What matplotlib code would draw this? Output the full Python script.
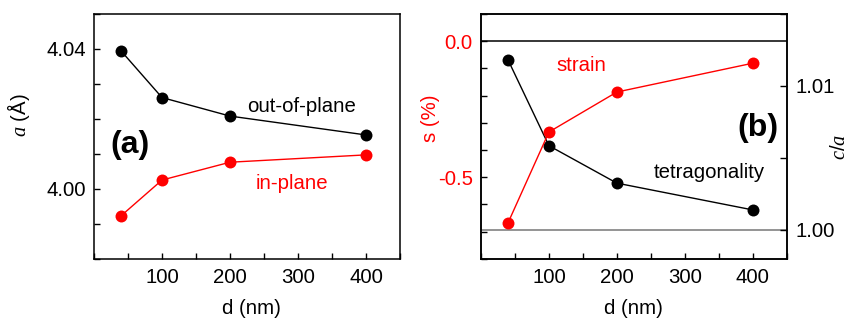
import matplotlib
matplotlib.use("Agg")
import matplotlib.pyplot as plt
from matplotlib.ticker import MultipleLocator, FixedLocator, FormatStrFormatter

plt.rcParams['font.family'] = ['Liberation Sans', 'DejaVu Sans']
plt.rcParams['mathtext.fontset'] = 'custom'
plt.rcParams['mathtext.it'] = 'Liberation Serif:italic'
plt.rcParams['mathtext.rm'] = 'Liberation Sans'

d = [40, 100, 200, 400]
a_out = [4.0394, 4.0261, 4.0208, 4.0154]
a_in = [3.9923, 4.0025, 4.0076, 4.0097]
strain = [-0.667, -0.334, -0.187, -0.081]
tetra = [1.01179, 1.00585, 1.00325, 1.00139]

RED = '#ff0000'
FS = 14.7
BFS = 23
W, H = 851, 322
fig = plt.figure(figsize=(W/100, H/100), dpi=100)

def fx(px): return px / W
def fy(py): return 1 - py / H

ax1 = fig.add_axes([fx(94), fy(258.7), fx(400-94), (258.7-14)/H])
ax2 = fig.add_axes([fx(481), fy(258.7), fx(786.7-481), (258.7-14)/H])
ax3 = ax2.twinx()

mk = dict(marker='o', markersize=8.6, linewidth=1.0, markeredgewidth=0)

for ax in (ax1, ax2, ax3):
    for s in ax.spines.values():
        s.set_linewidth(1.1)

# Panel (a)
ax1.plot(d, a_out, color='black', **mk)
ax1.plot(d, a_in, color=RED, **mk)
ax1.set_xlim(0, 450)
ax1.set_ylim(3.98, 4.05)
ax1.xaxis.set_major_locator(FixedLocator([100, 200, 300, 400]))
ax1.xaxis.set_minor_locator(MultipleLocator(50))
ax1.yaxis.set_major_locator(FixedLocator([4.00, 4.04]))
ax1.yaxis.set_minor_locator(MultipleLocator(0.01))
ax1.yaxis.set_major_formatter(FormatStrFormatter('%.2f'))
ax1.tick_params(which='both', direction='in', labelsize=FS, width=1.0)
ax1.tick_params(axis='y', which='both', length=4, pad=6)
ax1.tick_params(axis='x', which='both', length=4, pad=7)
ax1.set_xlabel('d (nm)', fontsize=FS)
ax1.set_ylabel(r'$a$ (Å)', fontsize=FS)
ax1.yaxis.set_label_coords(-0.203, 0.587)
ax1.xaxis.set_label_coords(0.515, -0.165)
ax1.text(224.5, 4.0234, 'out-of-plane', fontsize=FS, color='black', ha='left', va='center')
ax1.text(290.7, 4.0016, 'in-plane', fontsize=FS, color=RED, ha='center', va='center')
ax1.text(0.052, 0.465, '(a)', transform=ax1.transAxes, fontsize=BFS, fontweight='bold', ha='left', va='center')

# Panel (b)
ax2.plot(d, strain, color=RED, zorder=3, **mk)
ax2.set_xlim(0, 450)
ax2.set_ylim(-0.8, 0.1)
ax2.axhline(0.0, color='black', linewidth=1.1, zorder=1)
ax2.xaxis.set_major_locator(FixedLocator([100, 200, 300, 400]))
ax2.xaxis.set_minor_locator(MultipleLocator(50))
ax2.yaxis.set_major_locator(FixedLocator([0.0, -0.5]))
ax2.yaxis.set_minor_locator(MultipleLocator(0.1))
ax2.yaxis.set_major_formatter(FormatStrFormatter('%.1f'))
ax2.tick_params(which='both', direction='in', labelsize=FS, width=1.0)
ax2.tick_params(axis='y', which='both', length=4, pad=6, labelcolor=RED)
ax2.tick_params(axis='x', which='both', length=4, pad=7)
ax2.set_xlabel('d (nm)', fontsize=FS)
ax2.set_ylabel('s (%)', fontsize=FS, color=RED)
ax2.yaxis.set_label_coords(-0.134, 0.575)
ax2.xaxis.set_label_coords(0.5, -0.165)
ax2.text(0.248, 0.79, 'strain', transform=ax2.transAxes, fontsize=FS, color=RED, ha='left', va='center')

ax3.plot(d, tetra, color='black', zorder=2, **mk)
ax3.set_ylim(0.998, 1.015)
ax3.axhline(1.00, color='#777777', linewidth=1.1, zorder=1)
ax3.yaxis.set_major_locator(FixedLocator([1.00, 1.01]))
ax3.yaxis.set_minor_locator(MultipleLocator(0.005))
ax3.yaxis.set_major_formatter(FormatStrFormatter('%.2f'))
ax3.tick_params(which='both', direction='in', labelsize=FS, width=1.0, length=5, pad=6)
ax3.set_ylabel(r'$c/a$', fontsize=FS, rotation=90)
ax3.yaxis.set_label_coords(1.142, 0.456)
ax3.text(0.566, 0.354, 'tetragonality', transform=ax3.transAxes, fontsize=FS, color='black', ha='left', va='center')
ax3.text(0.84, 0.534, '(b)', transform=ax3.transAxes, fontsize=BFS, fontweight='bold', ha='left', va='center')

ax2.set_zorder(ax3.get_zorder() + 1)
ax2.patch.set_visible(False)

fig.savefig('out.png', dpi=100)
